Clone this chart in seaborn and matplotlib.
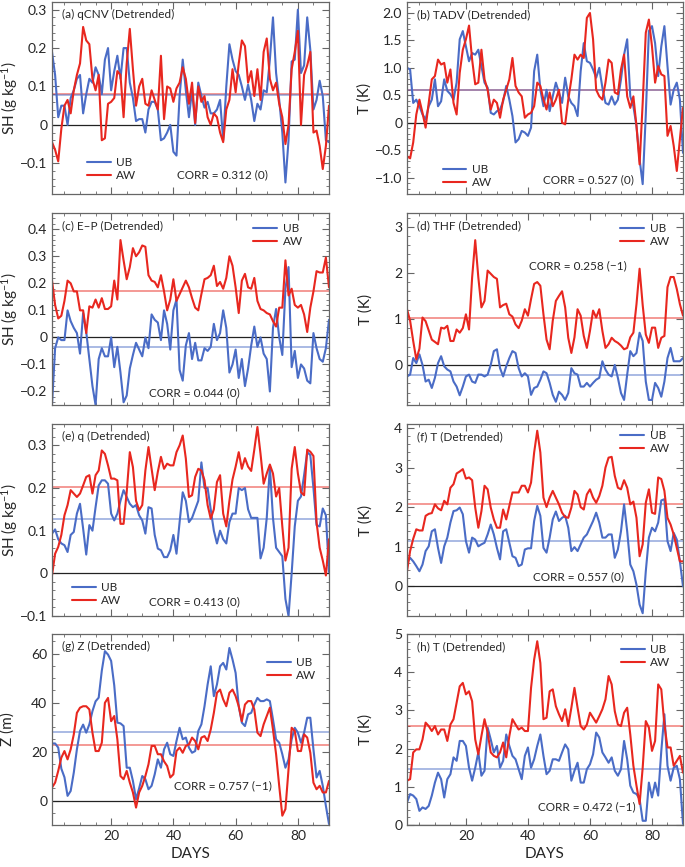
import numpy as np
import pandas as pd
import matplotlib
matplotlib.use("Agg")
import matplotlib.pyplot as plt
from matplotlib.ticker import AutoMinorLocator, MultipleLocator, FuncFormatter
from matplotlib.lines import Line2D
import seaborn as sns

# ---- data (daily values, day 1..90) ----
# (a) qCNV, SH (g/kg)
a_ub = [0.19, 0.13, 0.02, 0.05, 0.05, 0.0, 0.07, 0.09, 0.12, 0.13, 0.03, 0.08, 0.12, 0.11, 0.15, 0.13, 0.08, 0.17, 0.20, 0.09,
        0.14, 0.18, 0.12, 0.20, 0.20, 0.11, 0.07, 0.01, 0.015, 0.015, -0.02, 0.04, 0.06, 0.06, 0.04, -0.04, -0.035, -0.02, 0.0, -0.07,
        -0.08, 0.075, 0.17, 0.09, 0.02, 0.09, 0.0, 0.11, 0.075, 0.045, 0.06, 0.03, 0.03, 0.04, 0.065, -0.04, 0.10, 0.21, 0.17, 0.14,
        0.13, 0.10, 0.065, 0.105, 0.065, 0.01, 0.055, 0.04, 0.09, 0.085, 0.17, 0.28, 0.135, 0.065, -0.02, -0.15, -0.04, 0.165, 0.17, 0.30,
        0.135, 0.155, 0.28, 0.195, 0.04, 0.065, 0.115, 0.075, -0.04, -0.045]
a_aw = [-0.045, -0.065, -0.095, -0.01, 0.05, 0.065, 0.03, 0.09, 0.13, 0.16, 0.255, 0.22, 0.21, 0.12, 0.09, 0.13, -0.04, -0.035, 0.055, 0.06,
        0.07, 0.14, 0.13, 0.02, 0.16, 0.25, 0.145, 0.05, 0.10, 0.12, 0.055, 0.05, 0.09, 0.065, 0.04, 0.18, 0.015, 0.10, 0.095, 0.06,
        0.095, 0.11, 0.15, 0.12, 0.055, 0.11, 0.005, 0.10, 0.06, 0.075, 0.02, 0.0, 0.03, 0.02, -0.02, -0.045, 0.04, 0.065, 0.145, 0.085,
        0.16, 0.22, 0.205, 0.11, 0.14, 0.075, 0.145, 0.065, 0.19, 0.225, 0.12, 0.09, 0.11, 0.055, 0.02, -0.05, 0.0, 0.145, 0.19, 0.245,
        0.0, 0.13, 0.155, 0.19, -0.02, -0.015, -0.055, -0.115, -0.055, 0.05]
a_means = [0.077, 0.081]

# (b) TADV, T (K)
b_ub = [1.0, 0.97, 0.36, 0.42, 0.3, 0.15, 0.06, 0.3, 0.42, 0.79, 0.3, 0.39, 0.79, 0.58, 0.52, 0.42, 0.73, 1.52, 1.67, 1.39,
        1.12, 1.27, 1.24, 1.33, 1.03, 0.73, 0.64, 0.18, 0.15, 0.21, 0.24, 0.39, 0.67, 0.42, 0.12, -0.36, -0.3, -0.15, -0.18, -0.24,
        -0.09, 0.94, 1.24, 0.6, 0.3, 0.6, 0.21, 0.48, 0.73, 0.55, 0.36, 0.82, 0.48, 0.36, 0.3, 0.12, 0.94, 1.45, 1.12, 1.09,
        0.97, 0.82, 1.0, 0.64, 0.36, 0.33, 0.48, 0.33, 0.42, 0.79, 1.24, 1.52, 0.48, 0.3, -0.06, -0.67, -1.12, 0.15, 1.67, 1.76,
        1.45, 0.85, 1.39, 1.76, 1.03, 0.33, 0.6, 0.73, 0.42, -0.55]
b_aw = [-0.61, -0.65, -0.36, 0.15, 0.42, 0.18, -0.09, 0.36, 0.79, 0.85, 1.15, 1.06, 1.09, 0.73, 0.97, 0.36, 0.15, 0.91, 1.33, 1.52,
        1.77, 1.15, 0.70, 0.73, 1.33, 0.79, 0.6, 0.24, 0.42, 0.36, 0.09, 0.42, 0.6, 0.79, 1.18, 0.67, 0.55, 0.48, 0.09, 0.15,
        0.18, 0.3, 0.73, 0.67, 0.42, 0.24, 0.55, 0.3, 0.42, 0.6, 0.0, -0.03, 0.42, 0.79, 1.24, 1.15, 1.24, 1.18, 1.91, 2.0,
        1.52, 0.6, 0.48, 0.42, 0.73, 1.15, 1.09, 0.55, 0.52, 0.97, 1.24, 0.48, 0.27, 0.48, -0.06, -0.76, 0.36, 1.64, 1.88, 1.39,
        0.73, 1.03, 0.88, 0.85, -0.24, -0.06, -0.42, -0.88, -0.3, 0.27]
b_means = [0.59, 0.59]

# (c) E-P, SH (g/kg)
c_ub = [-0.25, -0.04, 0.0, -0.01, -0.01, 0.1, 0.06, 0.035, 0.016, -0.06, 0.09, 0.02, -0.08, -0.18, -0.25, -0.08, -0.04, -0.07, -0.07, 0.0,
        -0.11, -0.035, -0.13, -0.24, -0.215, -0.115, -0.065, -0.02, -0.045, -0.07, 0.0, -0.04, 0.085, 0.065, 0.055, -0.01, 0.1, 0.05, -0.045, 0.1,
        0.14, -0.12, -0.16, -0.03, 0.016, -0.08, -0.02, -0.085, -0.085, -0.04, -0.05, -0.035, 0.05, -0.01, 0.016, 0.1, 0.035, -0.13, -0.1, -0.045,
        -0.15, -0.08, -0.18, -0.115, -0.03, 0.04, -0.035, 0.0, -0.06, -0.08, -0.2, 0.035, 0.105, 0.0, -0.065, 0.18, 0.26, -0.11, -0.05, -0.15,
        -0.1, -0.115, -0.16, -0.17, 0.016, -0.04, -0.08, -0.09, -0.04, 0.065]
c_aw = [0.21, 0.12, 0.07, 0.08, 0.135, 0.21, 0.2, 0.17, 0.17, 0.1, 0.1, 0.016, 0.115, 0.11, 0.14, 0.11, 0.145, 0.105, 0.105, 0.115,
        0.21, 0.14, 0.36, 0.285, 0.215, 0.26, 0.33, 0.3, 0.315, 0.34, 0.335, 0.23, 0.21, 0.205, 0.185, 0.23, 0.17, 0.1, 0.14, 0.215,
        0.135, 0.16, 0.185, 0.21, 0.185, 0.145, 0.11, 0.1, 0.16, 0.215, 0.22, 0.23, 0.265, 0.19, 0.205, 0.18, 0.22, 0.3, 0.265, 0.185,
        0.09, 0.21, 0.235, 0.185, 0.18, 0.22, 0.135, 0.105, 0.1, 0.09, 0.085, 0.06, 0.04, 0.11, 0.11, 0.285, 0.155, 0.18, 0.12, 0.11,
        0.12, 0.085, 0.02, 0.11, 0.17, 0.245, 0.24, 0.24, 0.295, 0.185]
c_means = [-0.037, 0.172]

# (d) THF, T (K)
d_ub = [-0.25, -0.21, 0.15, 0.04, 0.23, 0.0, -0.36, -0.32, -0.5, -0.28, 0.04, 0.19, -0.03, -0.1, -0.14, -0.36, -0.47, -0.66, -0.47, -0.25,
        -0.21, -0.36, -0.39, -0.21, -0.21, -0.25, -0.21, 0.0, 0.3, 0.34, -0.07, -0.25, -0.03, 0.15, 0.3, 0.26, -0.07, -0.25, -0.18, -0.25,
        -0.65, -0.5, -0.47, -0.32, -0.14, -0.18, -0.39, -0.65, -0.8, -0.58, -0.65, -0.76, -0.61, -0.07, -0.18, -0.21, -0.47, -0.47, -0.39, -0.47,
        -0.39, -0.32, -0.28, 0.08, -0.1, -0.21, -0.25, 0.0, -0.28, -0.61, -0.76, -0.21, 0.3, 0.19, 0.26, 0.7, 0.52, -0.36, -0.76, -0.76,
        -0.39, -0.5, -0.69, -0.36, 0.15, 0.37, 0.08, 0.08, 0.08, 0.15]
d_aw = [1.21, 0.96, 0.52, 0.12, 0.35, 1.03, 0.95, 0.75, 0.55, 0.5, 0.45, 0.81, 0.79, 0.85, 0.52, 0.52, 0.77, 0.7, 0.8, 1.1,
        0.77, 1.9, 2.71, 1.9, 1.25, 1.39, 2.05, 1.98, 1.91, 1.87, 1.25, 1.3, 1.33, 1.1, 1.05, 0.88, 0.8, 0.96, 1.21, 1.07,
        1.43, 1.76, 1.8, 1.72, 1.1, 0.55, 0.34, 0.96, 1.39, 1.5, 1.6, 1.25, 0.59, 0.26, 0.6, 1.21, 1.07, 0.63, 0.37, 0.74,
        1.18, 1.03, 1.21, 0.74, 0.37, 0.45, 0.59, 0.52, 0.48, 0.42, 0.34, 0.37, 0.6, 0.7, 1.32, 2.09, 1.3, 0.66, 0.48, 0.81,
        0.81, 0.37, 0.59, 0.63, 1.69, 1.91, 1.91, 1.65, 1.32, 1.07]
d_means = [-0.21, 1.03]

# (e) q, SH (g/kg)
e_ub = [0.093, 0.103, 0.08, 0.07, 0.066, 0.05, 0.09, 0.097, 0.14, 0.163, 0.105, 0.044, 0.113, 0.1, 0.155, 0.206, 0.218, 0.218, 0.21, 0.14,
        0.124, 0.14, 0.17, 0.195, 0.179, 0.163, 0.155, 0.16, 0.136, 0.124, 0.093, 0.155, 0.152, 0.09, 0.058, 0.054, 0.038, 0.038, 0.054, 0.09,
        0.046, 0.12, 0.19, 0.17, 0.12, 0.13, 0.15, 0.17, 0.26, 0.2, 0.2, 0.15, 0.1, 0.07, 0.1, 0.08, 0.07, 0.12, 0.14, 0.14,
        0.2, 0.195, 0.2, 0.15, 0.13, 0.13, 0.13, 0.035, 0.06, 0.13, 0.25, 0.13, 0.06, 0.05, 0.04, -0.06, -0.1, 0.0, 0.11, 0.17,
        0.18, 0.23, 0.284, 0.277, 0.2, 0.113, 0.11, 0.152, 0.136, 0.003]
e_aw = [-0.005, 0.046, 0.062, 0.09, 0.136, 0.16, 0.195, 0.187, 0.179, 0.187, 0.206, 0.226, 0.23, 0.187, 0.23, 0.241, 0.288, 0.28, 0.253, 0.222,
        0.222, 0.218, 0.116, 0.116, 0.19, 0.284, 0.249, 0.17, 0.148, 0.16, 0.241, 0.296, 0.245, 0.195, 0.238, 0.273, 0.245, 0.257, 0.253, 0.253,
        0.284, 0.3, 0.323, 0.269, 0.179, 0.183, 0.226, 0.245, 0.241, 0.218, 0.16, 0.128, 0.15, 0.214, 0.23, 0.14, 0.11, 0.17, 0.22, 0.25,
        0.284, 0.245, 0.27, 0.25, 0.24, 0.29, 0.343, 0.28, 0.21, 0.234, 0.255, 0.234, 0.18, 0.2, 0.11, 0.03, 0.06, 0.245, 0.296, 0.234,
        0.19, 0.183, 0.29, 0.285, 0.275, 0.12, 0.06, 0.03, -0.005, 0.08]
e_means = [0.127, 0.202]

# (f) T, T (K)
f_ub = [0.59, 0.72, 0.63, 0.51, 0.38, 0.55, 0.89, 1.01, 1.39, 1.44, 0.97, 0.59, 1.01, 1.23, 1.61, 1.9, 1.92, 1.99, 1.82, 1.14,
        0.85, 1.23, 1.18, 1.01, 1.06, 1.1, 1.31, 1.56, 1.31, 0.97, 0.68, 1.39, 1.44, 1.1, 0.76, 0.72, 0.51, 0.55, 0.93, 0.96,
        0.96, 1.65, 2.03, 1.78, 0.97, 0.85, 1.23, 1.69, 1.89, 1.65, 1.73, 1.78, 1.48, 0.89, 0.99, 0.89, 1.06, 1.23, 1.31, 1.48,
        1.65, 1.86, 1.61, 1.23, 1.23, 1.31, 1.31, 0.72, 0.93, 1.39, 2.07, 1.39, 0.55, 0.38, 0.04, -0.46, -0.68, 0.38, 1.23, 1.48,
        1.39, 1.61, 2.17, 2.2, 1.14, 0.89, 1.35, 1.18, 0.63, 0.0]
f_aw = [0.38, 0.89, 1.2, 1.44, 1.41, 1.41, 1.78, 1.83, 1.85, 2.07, 1.97, 1.92, 2.16, 2.07, 2.49, 2.58, 2.85, 2.9, 2.96, 2.72,
        2.75, 2.68, 1.99, 1.48, 1.9, 2.54, 2.45, 1.99, 1.69, 1.48, 1.48, 1.94, 1.69, 2.03, 2.37, 2.37, 2.37, 2.54, 2.54, 2.37,
        2.62, 3.38, 3.93, 3.38, 2.24, 2.0, 2.24, 2.41, 2.24, 2.07, 1.86, 1.75, 1.73, 1.99, 2.41, 2.32, 2.0, 1.94, 2.32, 2.45,
        2.24, 2.11, 2.28, 2.54, 3.0, 3.25, 3.27, 2.79, 2.49, 2.45, 2.68, 2.49, 2.07, 2.14, 1.73, 0.76, 1.06, 2.11, 2.45, 1.86,
        1.83, 2.75, 2.71, 2.41, 1.73, 1.56, 1.31, 0.97, 0.63, 0.63]
f_means = [1.14, 2.09]

# (g) Z, Z (m)
g_ub = [23.3, 23.3, 21.6, 13, 9.5, 1.9, 3.9, 11.4, 20.9, 28.4, 31, 27.7, 31.1, 36.5, 40.5, 42, 53, 61, 59.6, 57,
        47, 31.8, 31.5, 30.4, 13.4, 13.4, 8, 0.5, 5, 10, 8.7, 4.6, 6, 10.7, 16.8, 13.4, 20.9, 23.6, 18.9, 18.2,
        24.3, 29.7, 25, 25.7, 21.6, 19.5, 20.2, 28.4, 31.1, 38.5, 47.4, 54.8, 42.6, 47.4, 54.8, 56.2, 53.5, 62.3, 57.6, 52.1,
        38.5, 31.8, 30.4, 35.2, 35.8, 39.2, 41.9, 40.6, 40.6, 41.3, 40.6, 33.1, 25, 23.6, 18.9, 13.4, 16.8, 25, 29.7, 27.7,
        23.6, 27.7, 33.8, 33.8, 20.9, 9.4, 12.1, 6, -2.2, -9.6]
g_aw = [5.3, 7.3, 12.1, 17.5, 20.2, 16.8, 20.9, 27, 35.8, 37.9, 38.5, 38.5, 37.2, 27.7, 20.2, 20.2, 23.6, 39.9, 41.9, 32.4,
        34.5, 25, 10, 8.7, 12.1, 7.3, 3.3, -2.9, 3.3, 6, 10, 14.8, 22.3, 22.3, 18.9, 18.9, 16, 14.1, 9.4, 10.7,
        20.2, 21.6, 19.5, 22.3, 22.9, 25.7, 24.3, 20.9, 25.7, 26.3, 24.3, 29, 35.8, 44, 45.3, 41.3, 38.5, 44, 45.3, 42.6,
        38.5, 32.4, 39.2, 40.6, 40.6, 37.2, 27.7, 26.3, 31.1, 34.5, 37.9, 29, 18.9, 6, -6.2, -3.5, 12.8, 29.7, 28.4, 20.2,
        20.2, 27, 25.7, 19.5, 7.3, 4.6, 6, 3.3, 3.3, 8]
g_means = [28.1, 22.7]

# (h) T, T (K)
h_ub = [0.59, 0.81, 0.77, 0.68, 0.37, 0.46, 0.42, 0.5, 0.77, 1.11, 1.37, 1.2, 0.72, 1.2, 1.33, 1.77, 1.68, 2.2, 2.2, 2.07,
        1.5, 1.16, 1.5, 1.9, 1.29, 1.42, 2.55, 2.24, 1.9, 2.07, 1.5, 1.68, 2.37, 2.07, 1.81, 1.72, 1.46, 1.2, 1.81, 2.03,
        1.5, 1.72, 2.07, 2.37, 1.81, 1.33, 1.42, 1.72, 1.72, 1.68, 1.9, 2.11, 1.98, 1.16, 1.42, 1.63, 1.11, 1.11, 1.46, 1.59,
        1.85, 2.42, 2.29, 1.9, 1.77, 1.63, 1.77, 1.42, 1.29, 1.46, 2.2, 1.72, 1.03, 0.85, 0.81, 0.68, 0.11, 0.11, 1.11, 0.72,
        1.11, 0.77, 1.94, 2.9, 1.55, 1.16, 1.5, 1.55, 1.2, 0.03]
h_aw = [1.16, 1.2, 1.9, 1.98, 1.98, 2.24, 2.68, 2.59, 2.46, 2.59, 2.37, 2.5, 2.5, 2.2, 2.63, 2.77, 3.2, 3.63, 3.72, 3.42,
        3.5, 3.24, 2.24, 1.85, 2.33, 2.77, 2.42, 1.9, 1.81, 1.77, 1.9, 2.16, 1.77, 2.33, 2.77, 2.63, 2.5, 2.55, 2.46, 2.46,
        3.59, 4.33, 4.81, 4.24, 2.77, 2.81, 3.5, 3.55, 3.11, 2.9, 2.72, 3.03, 2.59, 3.07, 3.59, 3.07, 2.59, 2.5, 2.63, 2.94,
        2.81, 2.68, 2.85, 3.03, 3.29, 3.9, 3.68, 2.98, 2.63, 2.59, 2.94, 3.07, 2.37, 1.55, 1.03, 0.55, 1.5, 2.72, 2.55, 1.94,
        2.2, 3.68, 3.55, 2.63, 2.03, 2.03, 1.55, 1.68, 1.81, 1.37]
h_means = [1.46, 2.59]

corr_labels = ["CORR = 0.312 (0)", "CORR = 0.527 (0)", "CORR = 0.044 (0)", "CORR = 0.258 (\u22121)",
               "CORR = 0.413 (0)", "CORR = 0.557 (0)", "CORR = 0.757 (\u22121)", "CORR = 0.472 (\u22121)"]
titles = ["(a) qCNV (Detrended)", "(b) TADV (Detrended)", "(c) E\u2013P (Detrended)", "(d) THF (Detrended)",
          "(e) q (Detrended)", "(f) T (Detrended)", "(g) Z (Detrended)", "(h) T (Detrended)"]

UB_COLOR = "#4a6cc6"
AW_COLOR = "#e8271f"

sns.set_style("ticks")
plt.rcParams['font.family'] = ['Lato', 'DejaVu Sans']
plt.rcParams['mathtext.default'] = 'regular'
plt.rcParams['axes.unicode_minus'] = True


def make_fmt(decimals):
    def f(v, pos):
        if abs(v) < 1e-9:
            return "0"
        s = f"{v:.{decimals}f}"
        return s.replace("-", "\u2212")
    return FuncFormatter(f)


def draw_panel(ax, ub, aw, means, spec, title, corr, bottom_row):
    df = pd.DataFrame({
        "day": np.r_[np.arange(1, len(ub) + 1), np.arange(1, len(aw) + 1)],
        "value": list(ub) + list(aw),
        "series": ["UB"] * len(ub) + ["AW"] * len(aw),
    })
    ax.axhline(0, color="#222222", lw=0.9, zorder=1)
    ax.axhline(means[1], color=AW_COLOR, lw=1.1, alpha=0.6, zorder=1)
    ax.axhline(means[0], color=UB_COLOR, lw=1.1, alpha=0.6, zorder=1)
    sns.lineplot(data=df, x="day", y="value", hue="series", hue_order=["UB", "AW"],
                 palette={"UB": UB_COLOR, "AW": AW_COLOR}, linewidth=1.5,
                 errorbar=None, legend=False, ax=ax, zorder=2)

    ax.set_xlim(1, 90)
    ax.set_ylim(*spec["ylim"])
    ax.set_xticks([20, 40, 60, 80])
    ax.xaxis.set_minor_locator(MultipleLocator(5))
    ax.set_yticks(spec["yticks"])
    ax.yaxis.set_minor_locator(AutoMinorLocator(spec["yminor"]))
    ax.yaxis.set_major_formatter(make_fmt(spec["dec"]))
    ax.tick_params(which="both", direction="in", top=True, right=True, color="#666666")
    ax.tick_params(which="major", length=5, width=0.8, labelsize=10)
    ax.tick_params(which="minor", length=2.5, width=0.6)
    for sp in ax.spines.values():
        sp.set_color("#666666")
        sp.set_linewidth(0.9)

    ax.set_ylabel(spec["ylabel"], fontsize=11)
    ax.yaxis.set_label_coords(spec["ylabx"], 0.5)
    if bottom_row:
        ax.set_xlabel("DAYS", fontsize=11)
    else:
        ax.set_xlabel("")
        ax.tick_params(labelbottom=False)

    ax.text(0.036, 0.935, title, transform=ax.transAxes, ha="left", va="center", fontsize=8.5)
    ax.text(spec["corr"][0], spec["corr"][1], corr, transform=ax.transAxes,
            ha="center", va="center", fontsize=8.5)
    handles = [Line2D([], [], color=UB_COLOR, lw=1.5), Line2D([], [], color=AW_COLOR, lw=1.5)]
    ax.legend(handles, ["UB", "AW"], loc="upper left", bbox_to_anchor=spec["leg"],
              frameon=False, fontsize=8.5, handlelength=2.0, handletextpad=0.5,
              labelspacing=0.15, borderpad=0, borderaxespad=0)


sh = "SH (g kg$^{-1}$)"
specs = [
    dict(ylim=(-0.18, 0.32), yticks=[-0.1, 0, 0.1, 0.2, 0.3], yminor=5, dec=1, ylabel=sh, ylabx=-0.115,
         corr=(0.614, 0.099), leg=(0.126, 0.191)),
    dict(ylim=(-1.3, 2.2), yticks=[-1.0, -0.5, 0, 0.5, 1.0, 1.5, 2.0], yminor=5, dec=1, ylabel="T (K)", ylabx=-0.127,
         corr=(0.659, 0.073), leg=(0.13, 0.156)),
    dict(ylim=(-0.25, 0.46), yticks=[-0.2, -0.1, 0, 0.1, 0.2, 0.3, 0.4], yminor=5, dec=1, ylabel=sh, ylabx=-0.115,
         corr=(0.513, 0.0625), leg=(0.726, 0.948)),
    dict(ylim=(-0.87, 3.3), yticks=[0, 1, 2, 3], yminor=5, dec=0, ylabel="T (K)", ylabx=-0.123,
         corr=(0.62, 0.724), leg=(0.772, 0.948)),
    dict(ylim=(-0.1, 0.35), yticks=[-0.1, 0, 0.1, 0.2, 0.3], yminor=5, dec=1, ylabel=sh, ylabx=-0.115,
         corr=(0.513, 0.073), leg=(0.072, 0.177)),
    dict(ylim=(-0.75, 4.1), yticks=[0, 1, 2, 3, 4], yminor=5, dec=0, ylabel="T (K)", ylabx=-0.123,
         corr=(0.623, 0.203), leg=(0.772, 0.969)),
    dict(ylim=(-10, 68), yticks=[0, 20, 40, 60], yminor=4, dec=0, ylabel="Z (m)", ylabx=-0.134,
         corr=(0.618, 0.204), leg=(0.776, 0.879)),
    dict(ylim=(0, 5), yticks=[0, 1, 2, 3, 4, 5], yminor=5, dec=0, ylabel="T (K)", ylabx=-0.123,
         corr=(0.652, 0.094), leg=(0.775, 0.947)),
]
series = [(a_ub, a_aw, a_means), (b_ub, b_aw, b_means), (c_ub, c_aw, c_means), (d_ub, d_aw, d_means),
          (e_ub, e_aw, e_means), (f_ub, f_aw, f_means), (g_ub, g_aw, g_means), (h_ub, h_aw, h_means)]

fig = plt.figure(figsize=(6.85, 8.67), dpi=100)
col_x = [52 / 685, 407 / 685]
col_w = [277 / 685, 276 / 685]
row_px = [(2, 194), (213, 405), (424, 616), (634, 825)]

for i, (ub, aw, means) in enumerate(series):
    r, c = divmod(i, 2)
    top, bot = row_px[r]
    ax = fig.add_axes([col_x[c], 1 - bot / 867, col_w[c], (bot - top) / 867])
    draw_panel(ax, ub, aw, means, specs[i], titles[i], corr_labels[i], bottom_row=(r == 3))

fig.savefig("out.png", dpi=100)
